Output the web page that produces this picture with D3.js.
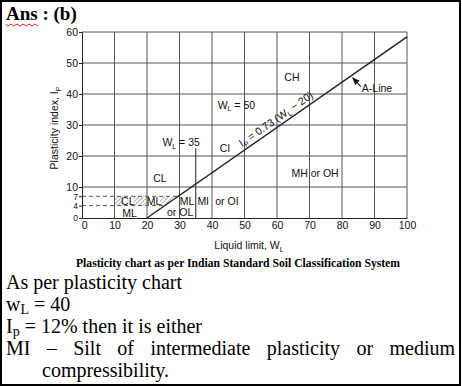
<!doctype html>
<html>
  <head>
    <meta charset="utf-8" />
    <title>Plasticity Chart</title>
    <style>
      body {
        margin: 0;
        background: #fff;
      }
      svg {
        display: block;
      }
      .chart text {
        font-family: "Liberation Sans", Arial, sans-serif;
        font-size: 10.5px;
        fill: #111;
      }
      .serif {
        font-family: "Liberation Serif", "Times New Roman", serif;
        fill: #000;
      }
    </style>
  </head>
  <body>
    <svg id="page" width="462" height="386"></svg>
    <script src="https://d3js.org/d3.v7.min.js"></script>
    <script>
      // chart data
      const xTicks = [0, 10, 20, 30, 40, 50, 60, 70, 80, 90, 100];
      const yTicks = [0, 4, 7, 10, 20, 30, 40, 50, 60];
      const gridX = [10, 20, 30, 40, 50, 60, 70, 80, 90, 100];
      const gridY = [10, 20, 30, 40, 50, 60];
      const aLine = [[20, 0], [100, 58.4]]; // Ip = 0.73 (WL - 20)
      const dashedIp = [[4, 25.5], [7, 29.6]]; // [Ip, WL where it meets A-line]
      const wl35 = [[35, 0], [35, 22.5]];
      const hatchAreas = [
        [[10, 4], [12.7, 4], [12.7, 7], [10, 7]],
        [[15.8, 4], [20, 4], [20, 7], [15.8, 7]],
        [[24, 4], [25.5, 4], [29.6, 7], [24, 7]],
      ];
      // zone labels: [WL, Ip, main text, subscript, rest]
      const zoneLabels = [
        [64.6, 45.5, "CH"],
        [47.5, 36.5, "W", "L", " = 50"],
        [30.5, 24.5, "W", "L", " = 35"],
        [44, 22.6, "CI"],
        [24, 12.9, "CL"],
        [71.7, 14.5, "MH or OH"],
        [14.1, 5.6, "CL"],
        [14.6, 1.7, "ML"],
        [22.2, 5.6, "ML"],
        [32.3, 5.6, "ML"],
        [37.3, 5.6, "MI"],
        [44.6, 5.6, "or OI"],
        [30.2, 1.8, "or OL"],
      ];
      const answerLines = [
        "As per plasticity chart",
        "w|L| = 40",
        "I|p| = 12% then it is either",
      ];
      const justifiedLine = "MI – Silt of intermediate plasticity or medium";
      const lastLine = "compressibility.";

      const svg = d3.select("#page");

      // page border
      svg
        .append("rect")
        .attr("x", 1)
        .attr("y", 1)
        .attr("width", 459)
        .attr("height", 384)
        .attr("fill", "none")
        .attr("stroke", "#000")
        .attr("stroke-width", 2);

      // heading
      svg
        .append("text")
        .attr("class", "serif")
        .attr("x", 6)
        .attr("y", 20)
        .style("font-size", "19px")
        .style("font-weight", "bold")
        .text("Ans : (b)");

      // spell-check squiggle under "Ans"
      const sq = d3.path();
      sq.moveTo(6, 24);
      for (let i = 0; i < 11; i++) {
        sq.lineTo(8 + i * 3, i % 2 ? 24 : 26);
      }
      svg
        .append("path")
        .attr("d", sq.toString())
        .attr("fill", "none")
        .attr("stroke", "#e02020")
        .attr("stroke-width", 1);

      const x = d3.scaleLinear().domain([0, 100]).range([82, 407]);
      const y = d3.scaleLinear().domain([0, 60]).range([218, 32]);

      const g = svg.append("g").attr("class", "chart");

      // hatch pattern
      const defs = svg.append("defs");
      const pat = defs
        .append("pattern")
        .attr("id", "hatch")
        .attr("patternUnits", "userSpaceOnUse")
        .attr("width", 3)
        .attr("height", 3)
        .attr("patternTransform", "rotate(45)");
      pat
        .append("line")
        .attr("x1", 0)
        .attr("y1", 0)
        .attr("x2", 0)
        .attr("y2", 3)
        .attr("stroke", "#777")
        .attr("stroke-width", 1.2);

      const line = d3
        .line()
        .x((d) => x(d[0]))
        .y((d) => y(d[1]));

      g.selectAll(".hatch")
        .data(hatchAreas)
        .join("path")
        .attr("class", "hatch")
        .attr("d", (d) => line(d) + "Z")
        .attr("fill", "url(#hatch)");

      // grid
      g.selectAll(".gx")
        .data(gridX)
        .join("line")
        .attr("class", "gx")
        .attr("x1", (d) => x(d))
        .attr("x2", (d) => x(d))
        .attr("y1", y(0))
        .attr("y2", y(60))
        .attr("stroke", "#555")
        .attr("stroke-width", 1);
      g.selectAll(".gy")
        .data(gridY)
        .join("line")
        .attr("class", "gy")
        .attr("x1", x(0))
        .attr("x2", x(100))
        .attr("y1", (d) => y(d))
        .attr("y2", (d) => y(d))
        .attr("stroke", "#555")
        .attr("stroke-width", 1);

      // dashed lines at Ip = 4 and 7
      g.selectAll(".dash")
        .data(dashedIp)
        .join("line")
        .attr("class", "dash")
        .attr("x1", x(0))
        .attr("x2", (d) => x(d[1]))
        .attr("y1", (d) => y(d[0]))
        .attr("y2", (d) => y(d[0]))
        .attr("stroke", "#555")
        .attr("stroke-dasharray", "4,3");

      // WL = 35 line
      g.append("path")
        .attr("d", line(wl35))
        .attr("stroke", "#333")
        .attr("stroke-width", 1.1);

      // A-line
      g.append("path")
        .attr("d", line(aLine))
        .attr("stroke", "#222")
        .attr("stroke-width", 1.5);

      // axes
      const yAxis = d3
        .axisLeft(y)
        .tickValues(yTicks)
        .tickSize(3)
        .tickPadding(1)
        .tickFormat(d3.format("d"));
      const gy = g
        .append("g")
        .attr("transform", `translate(${x(0)},0)`)
        .call(yAxis);
      const xAxis = d3
        .axisBottom(x)
        .tickValues(xTicks)
        .tickSize(0)
        .tickPadding(4)
        .tickFormat(d3.format("d"));
      const gx = g
        .append("g")
        .attr("transform", `translate(0,${y(0)})`)
        .call(xAxis);
      [gx, gy].forEach((a) => {
        a.selectAll("path,line").attr("stroke", "#222");
        a.selectAll("text")
          .style("font-size", "10.5px")
          .style("font-family", "'Liberation Sans', Arial, sans-serif")
          .attr("fill", "#111");
      });
      gy.selectAll("text")
        .attr("dy", "0.34em")
        .filter((d) => d < 10)
        .style("font-size", "8.5px");
      gx.selectAll("text").filter((d) => d === 0).attr("dx", "0.2em");

      // zone labels
      zoneLabels.forEach((d) => {
        const t = g
          .append("text")
          .attr("x", x(d[0]))
          .attr("y", y(d[1]) + 4)
          .attr("text-anchor", "middle");
        t.append("tspan").text(d[2]);
        if (d[3]) {
          t.append("tspan")
            .attr("dy", 2.5)
            .style("font-size", "7px")
            .text(d[3]);
          t.append("tspan").attr("dy", -2.5).text(d[4]);
        }
      });

      // A-line equation along the line
      const ang =
        (Math.atan2(y(aLine[1][1]) - y(aLine[0][1]), x(aLine[1][0]) - x(aLine[0][0])) *
          180) /
        Math.PI;
      const eqW = 61;
      const eqP = [x(eqW), y(0.73 * (eqW - 20))];
      const eq = g
        .append("text")
        .attr(
          "transform",
          `translate(${eqP[0]},${eqP[1]}) rotate(${ang}) translate(0,-4)`
        )
        .attr("text-anchor", "middle");
      eq.append("tspan").text("I");
      eq.append("tspan").attr("dy", 2.5).style("font-size", "7px").text("P");
      eq.append("tspan").attr("dy", -2.5).text(" = 0.73 (W");
      eq.append("tspan").attr("dy", 2.5).style("font-size", "7px").text("L");
      eq.append("tspan").attr("dy", -2.5).text(" − 20)");

      // A-Line pointer
      defs
        .append("marker")
        .attr("id", "arrow")
        .attr("viewBox", "0 0 10 10")
        .attr("refX", 9)
        .attr("refY", 5)
        .attr("markerWidth", 7)
        .attr("markerHeight", 7)
        .attr("orient", "auto")
        .append("path")
        .attr("d", "M0,1L10,5L0,9Z")
        .attr("fill", "#111");
      g.append("line")
        .attr("x1", x(85.8))
        .attr("y1", y(42.4))
        .attr("x2", x(83.3))
        .attr("y2", y(45.2))
        .attr("stroke", "#111")
        .attr("stroke-width", 1.1)
        .attr("marker-end", "url(#arrow)");
      g.append("text")
        .attr("x", x(85.8) + 1)
        .attr("y", y(42.4) + 5)
        .text("A-Line");

      // axis titles
      const yt = g
        .append("text")
        .attr("transform", `translate(58,128) rotate(-90)`)
        .attr("text-anchor", "middle");
      yt.append("tspan").text("Plasticity index, I");
      yt.append("tspan").attr("dy", 2.5).style("font-size", "7px").text("P");

      const xt = g
        .append("text")
        .attr("x", 249)
        .attr("y", 249)
        .attr("text-anchor", "middle");
      xt.append("tspan").text("Liquid limit, W");
      xt.append("tspan").attr("dy", 2.5).style("font-size", "7px").text("L");

      svg
        .append("text")
        .attr("class", "serif")
        .attr("x", 76)
        .attr("y", 267)
        .attr("textLength", 324)
        .attr("lengthAdjust", "spacingAndGlyphs")
        .style("font-size", "12px")
        .style("font-weight", "bold")
        .text("Plasticity chart as per Indian Standard Soil Classification System");

      // answer text
      const ans = svg
        .append("g")
        .attr("class", "serif")
        .style("font-size", "20px");
      answerLines.forEach((s, i) => {
        const t = ans.append("text").attr("x", 6).attr("y", 289 + i * 22);
        s.split("|").forEach((part, j) => {
          if (j % 2 === 1) {
            t.append("tspan")
              .attr("dy", 3)
              .style("font-size", "14px")
              .text(part);
          } else {
            t.append("tspan")
              .attr("dy", j > 0 ? -3 : 0)
              .text(part);
          }
        });
      });

      // justified line
      const words = justifiedLine.split(" ");
      const wt = ans
        .selectAll(".word")
        .data(words)
        .join("text")
        .attr("class", "word")
        .attr("y", 289 + 3 * 22)
        .text((d) => d);
      const widths = wt.nodes().map((n) => n.getComputedTextLength());
      const gap = (455 - 6 - d3.sum(widths)) / (words.length - 1);
      let cx = 6;
      wt.attr("x", (d, i) => {
        const v = cx;
        cx += widths[i] + gap;
        return v;
      });

      ans.append("text")
        .attr("x", 42)
        .attr("y", 289 + 4 * 22)
        .text(lastLine);
    </script>
  </body>
</html>
